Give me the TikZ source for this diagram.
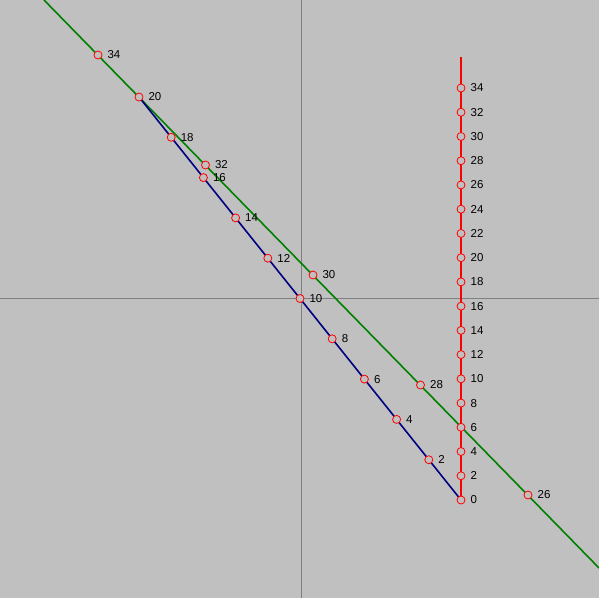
\documentclass[tikz,border=0pt]{standalone}
\usepackage{fontspec}
\setmainfont{Liberation Sans}
\definecolor{bgc}{HTML}{C0C0C0}
\definecolor{axc}{HTML}{808080}
\definecolor{gline}{HTML}{008000}
\definecolor{bline}{HTML}{000080}
\begin{document}
\begin{tikzpicture}[x=1pt,y=-1pt,
 mk/.style={circle,draw=red,fill=bgc,inner sep=0pt,minimum size=8pt,line width=0.8pt},
 lb/.style={font=\fontsize{11.5}{13}\selectfont,inner sep=0pt,label distance=5pt},
 ln/.style={line width=1.6pt}]
\fill[bgc] (0,0) rectangle (599,598);
\useasboundingbox (0,0) rectangle (599,598);
\draw[axc,line width=0.8pt] (301,0) -- (301,598);
\draw[axc,line width=0.8pt] (0,298) -- (599,298);
% coordinates of marks
\foreach \v in {0,2,...,34}{\coordinate (rc\v) at (461,{500-\v*12.1176});}
\foreach \v in {2,4,...,20}{\coordinate (bc\v) at ({461-\v*16.1},{500-\v*20.15});}
\foreach \v in {26,28,...,34}{\coordinate (gc\v) at ({528-(\v-26)*53.75},{495-(\v-26)*55});}
\coordinate (rtop) at (461,57);
\coordinate (ga) at (44,0);
\coordinate (gb) at (599,568);
% lines
\draw[gline,ln] (ga) -- (gb);
\draw[red,ln] (rtop) -- (rc0);
\draw[bline,ln] (rc0) -- (bc20);
% marks
\foreach \v in {0,2,...,34}{\node[mk,label={[lb]east:\v}] (r\v) at (rc\v) {};}
\foreach \v in {2,4,...,20}{\node[mk,label={[lb]east:\v}] (b\v) at (bc\v) {};}
\foreach \v in {26,28,...,34}{\node[mk,label={[lb]east:\v}] (g\v) at (gc\v) {};}
\end{tikzpicture}
\end{document}
